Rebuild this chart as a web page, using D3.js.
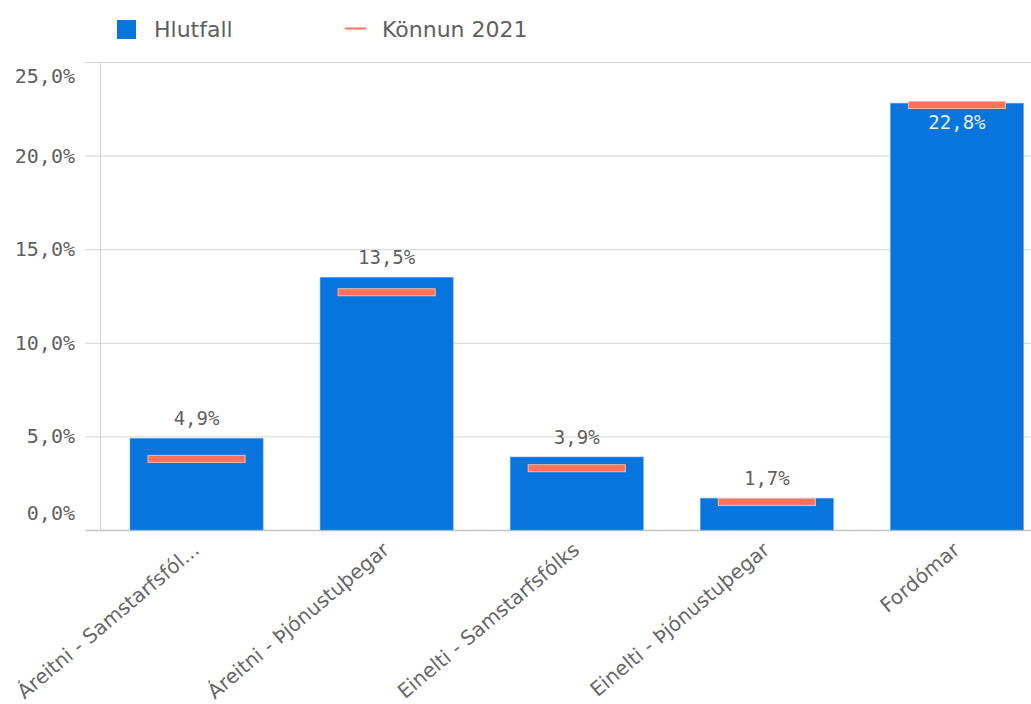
<!DOCTYPE html>
<html>
<head>
<meta charset="utf-8">
<script src="https://cdn.jsdelivr.net/npm/d3@7"></script>
<style>
  body { margin: 0; background: #fff; }
  svg { display: block; }
</style>
</head>
<body>
<svg id="chart" width="1031" height="704"></svg>
<script>
// data
var categories = ['Áreitni - Samstarfsfól...', 'Áreitni - Þjónustuþegar', 'Einelti - Samstarfsfólks', 'Einelti - Þjónustuþegar', 'Fordómar']
var hlutfall = [4.9, 13.5, 3.9, 1.7, 22.8]
var konnun2021 = [3.8, 12.7, 3.3, 1.5, 22.7]
var yTicks = [0, 5, 10, 15, 20, 25]

var W = 1031, H = 704
var svg = d3.select('#chart')
var grey = '#5f5f5f'
  , blue = '#0874de'
  , coral = '#ff7257'
  , mono = '"DejaVu Sans Mono", monospace'
  , sans = '"DejaVu Sans", sans-serif'

var fmt = function (v) { return v.toFixed(1).replace('.', ',') + '%' }

var x = d3.scaleBand()
  .domain(categories)
  .range([101.5, 1052])
  .paddingInner(0.3)
  .paddingOuter(0.15)

var y = d3.scaleLinear()
  .domain([0, 25])
  .range([530, 62])

//gridlines
svg.append('g')
  .selectAll('line')
  .data(yTicks)
  .enter()
  .append('line')
  .attr('x1', 85)
  .attr('x2', W)
  .attr('y1', function (d) { return y(d) + 0.5 })
  .attr('y2', function (d) { return y(d) + 0.5 })
  .attr('stroke', function (d) { return d === 0 ? '#c4c4c4' : '#d4d4d4' })
  .attr('stroke-width', function (d) { return d === 0 ? 1.5 : 1 })

//y axis line
svg.append('line')
  .attr('x1', 100.5).attr('x2', 100.5)
  .attr('y1', y(25)).attr('y2', y(0))
  .attr('stroke', '#d0d0d0')

//y labels
svg.append('g')
  .selectAll('text')
  .data(yTicks)
  .enter()
  .append('text')
  .attr('x', 75)
  .attr('y', function (d) {
    if (d === 25) return y(d) + 21
    if (d === 0) return y(d) - 10
    return y(d) + 7
  })
  .attr('text-anchor', 'end')
  .attr('font-family', mono)
  .attr('font-size', 20)
  .attr('fill', grey)
  .text(fmt)

//bars
svg.append('g')
  .selectAll('rect')
  .data(hlutfall)
  .enter()
  .append('rect')
  .attr('x', function (d, i) { return x(categories[i]) })
  .attr('y', function (d) { return y(d) })
  .attr('width', x.bandwidth())
  .attr('height', function (d) { return y(0) - y(d) })
  .attr('fill', blue)
  .attr('stroke', '#5aa4ee')
  .attr('stroke-width', 0.6)

//markers
var mw = x.bandwidth() * 0.73
svg.append('g')
  .selectAll('rect')
  .data(konnun2021)
  .enter()
  .append('rect')
  .attr('x', function (d, i) { return x(categories[i]) + (x.bandwidth() - mw) / 2 })
  .attr('y', function (d) { return y(d) - 3.5 })
  .attr('width', mw)
  .attr('height', 7)
  .attr('fill', coral)
  .attr('stroke', '#f8b9aa')
  .attr('stroke-width', 1)

//value labels
svg.append('g')
  .selectAll('text')
  .data(hlutfall)
  .enter()
  .append('text')
  .attr('x', function (d, i) { return x(categories[i]) + x.bandwidth() / 2 })
  .attr('y', function (d) { return d > 20 ? y(d) + 26 : y(d) - 13 })
  .attr('text-anchor', 'middle')
  .attr('font-family', mono)
  .attr('font-size', 19)
  .attr('fill', function (d) { return d > 20 ? '#e8f0fb' : grey })
  .text(fmt)

//x labels
svg.append('g')
  .selectAll('text')
  .data(categories)
  .enter()
  .append('text')
  .attr('transform', function (d) {
    return 'translate(' + (x(d) + x.bandwidth() / 2 + 4) + ',552) rotate(-40)'
  })
  .attr('text-anchor', 'end')
  .attr('font-family', sans)
  .attr('font-size', 20)
  .attr('fill', '#666')
  .text(function (d) { return d })

//legend
var legend = svg.append('g')
legend.append('rect')
  .attr('x', 117).attr('y', 20)
  .attr('width', 19).attr('height', 19)
  .attr('fill', blue)
legend.append('text')
  .attr('x', 154).attr('y', 37)
  .attr('font-family', sans)
  .attr('font-size', 22)
  .attr('fill', grey)
  .text('Hlutfall')
legend.append('line')
  .attr('x1', 345).attr('x2', 366)
  .attr('y1', 28.5).attr('y2', 28.5)
  .attr('stroke', coral)
  .attr('stroke-width', 2)
legend.append('text')
  .attr('x', 382).attr('y', 37)
  .attr('font-family', sans)
  .attr('font-size', 22)
  .attr('fill', grey)
  .text('Könnun 2021')
</script>
</body>
</html>
